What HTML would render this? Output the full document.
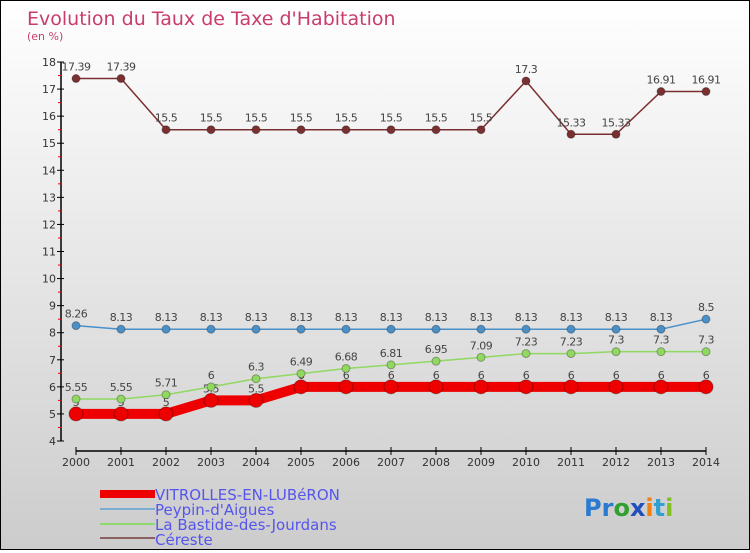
<!DOCTYPE html>
<html><head><meta charset="utf-8"><style>
body{margin:0;width:750px;height:550px;overflow:hidden;font-family:"DejaVu Sans","Liberation Sans",sans-serif}
#c{position:absolute;left:0;top:0;width:748px;height:548px;border:1px solid #000;background:linear-gradient(#fff,#ccc)}
</style></head><body>
<div id="c">
<svg id="s" width="748" height="548" xmlns="http://www.w3.org/2000/svg">
<text x="26" y="24" font-size="19" fill="#c83c6e">Evolution du Taux de Taxe d'Habitation</text>
<text x="26" y="39" font-size="11" fill="#c83c6e">(en %)</text>
<g id="axes"></g><g id="series"></g>
<g font-size="15" fill="#5555ee">
<rect x="99" y="489" width="55" height="8" fill="#ee0000"/>
<text x="154" y="499">VITROLLES-EN-LUBéRON</text>
<rect x="99" y="507" width="55" height="2" fill="#7aaed0"/>
<text x="154" y="514">Peypin-d'Aigues</text>
<rect x="99" y="522" width="55" height="2" fill="#90d870"/>
<text x="154" y="529">La Bastide-des-Jourdans</text>
<rect x="99" y="536" width="55" height="2" fill="#8a6060"/>
<text x="154" y="544">Céreste</text>
</g>
<g font-size="24" font-weight="bold">
<text x="583" y="515"><tspan fill="#2a7ad0">Pr</tspan><tspan fill="#30a030">o</tspan><tspan fill="#2050c0">x</tspan><tspan fill="#f08010">i</tspan><tspan fill="#30a0d0">t</tspan><tspan fill="#80c020">i</tspan></text>
</g>
</svg></div>
<script>
const years=["2000","2001","2002","2003","2004","2005","2006","2007","2008","2009","2010","2011","2012","2013","2014"];
const yTicks=[4,5,6,7,8,9,10,11,12,13,14,15,16,17,18];
const vitrolles=[5,5,5,5.5,5.5,6,6,6,6,6,6,6,6,6,6];
const peypin=[8.26,8.13,8.13,8.13,8.13,8.13,8.13,8.13,8.13,8.13,8.13,8.13,8.13,8.13,8.5];
const bastide=[5.55,5.55,5.71,6,6.3,6.49,6.68,6.81,6.95,7.09,7.23,7.23,7.3,7.3,7.3];
const cereste=[17.39,17.39,15.5,15.5,15.5,15.5,15.5,15.5,15.5,15.5,17.3,15.33,15.33,16.91,16.91];
const NS="http://www.w3.org/2000/svg";
const X=i=>75+i*45, Y=v=>440-(v-4)*27.07;
function mk(t,a,p){const e=document.createElementNS(NS,t);for(const k in a)e.setAttribute(k,a[k]);p.appendChild(e);return e;}
const ax=document.getElementById('axes');
const yl=mk('line',{x1:60,y1:Y(18),x2:60,y2:Y(4),stroke:'#000','stroke-width':1.5},ax);


const xl=mk('line',{x1:X(0),y1:450,x2:X(14),y2:450,stroke:'#000','stroke-width':1.5},ax);


yTicks.forEach(v=>{
 mk('line',{x1:56,y1:Y(v),x2:63,y2:Y(v),stroke:'#000'},ax);
 if(v<18)mk('line',{x1:57,y1:Y(v+0.5),x2:61,y2:Y(v+0.5),stroke:'#e00'},ax);
 const t=mk('text',{x:55,y:Y(v)+4,'font-size':11,fill:'#333','text-anchor':'end'},ax);t.textContent=v;
 
 
});
years.forEach((y,i)=>{
 mk('line',{x1:X(i),y1:446,x2:X(i),y2:454,stroke:'#000'},ax);
 const t=mk('text',{x:X(i),y:465,'font-size':11,fill:'#333','text-anchor':'middle'},ax);t.textContent=y;
 
 
});
const sg=document.getElementById('series');
function draw(d,col,w,r,name){
 const g=mk('g',{},sg);
 
 
 mk('polyline',{points:d.map((v,i)=>X(i)+','+Y(v)).join(' '),fill:'none',stroke:col,'stroke-width':w},g);
 d.forEach((v,i)=>{
  const c=mk('circle',{cx:X(i),cy:Y(v),r:r,fill:col,stroke:'rgba(0,0,0,0.3)'},g);
  
  
  const t=mk('text',{x:X(i),y:Y(v)-8,'font-size':11,fill:'#444','text-anchor':'middle','letter-spacing':'-0.5'},g);t.textContent=v;
  
  
 });
}
draw(vitrolles,'#ee0000',10,7,'series-vitrolles');
draw(peypin,'#4a90c8',1.5,4,'series-peypin');
draw(bastide,'#90d860',1.5,4,'series-bastide');
draw(cereste,'#7a3030',1.5,4,'series-cereste');
</script></body></html>
